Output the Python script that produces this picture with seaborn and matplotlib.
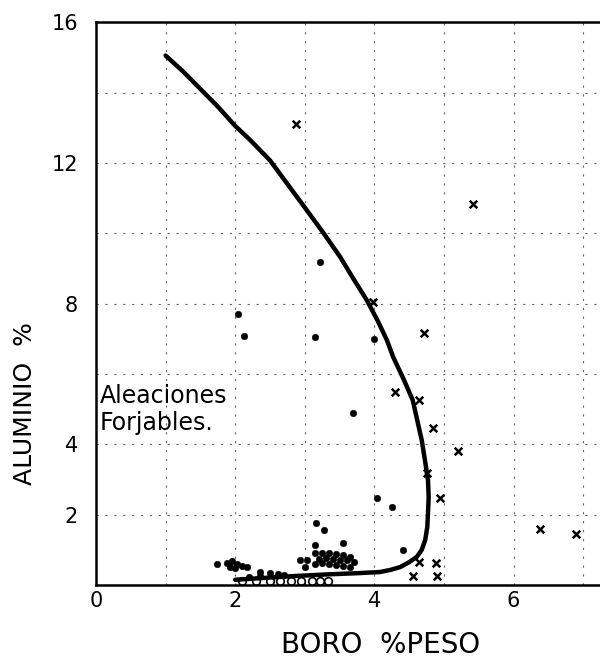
import pandas as pd
import matplotlib
matplotlib.use("Agg")
import matplotlib.pyplot as plt
import seaborn as sns

# boundary curve (boro %, aluminio %)
curve_b = [1.0, 1.25, 1.5, 1.75, 2.0, 2.21, 2.5, 2.75, 3.03, 3.27, 3.51, 3.7,
           3.89, 4.05, 4.18, 4.27, 4.42, 4.55, 4.68, 4.73, 4.77, 4.78, 4.77,
           4.76, 4.73, 4.68, 4.61, 4.5, 4.37, 4.23, 4.08, 3.79, 3.3, 2.8, 2.4, 2.0]
curve_al = [15.05, 14.6, 14.1, 13.6, 13.05, 12.66, 12.07, 11.4, 10.65, 10.0, 9.32, 8.7,
            8.1, 7.5, 6.96, 6.48, 5.85, 5.26, 4.12, 3.5, 2.98, 2.5, 2.05,
            1.65, 1.28, 1.0, 0.8, 0.65, 0.51, 0.43, 0.37, 0.34, 0.3, 0.25, 0.2, 0.15]

# forgeable alloys (dots)
dot_b = [3.22, 2.04, 2.13, 3.15, 4.0, 3.69, 4.04, 4.25, 3.16, 3.28, 3.15, 3.55,
         4.41, 2.93, 3.03, 3.0, 1.74, 2.36, 2.5, 2.62,
         3.15, 3.25, 3.35, 3.45, 3.55, 3.65, 3.2, 3.3, 3.4, 3.5, 3.6, 3.7,
         3.15, 3.25, 3.35, 3.45, 3.55, 3.65,
         1.88, 1.95, 2.02, 2.1, 2.17, 1.92, 2.0, 2.2, 2.35, 2.7]
dot_al = [9.18, 7.7, 7.07, 7.05, 7.0, 4.9, 2.47, 2.22, 1.76, 1.56, 1.14, 1.19,
          1.0, 0.71, 0.71, 0.52, 0.6, 0.37, 0.34, 0.31,
          0.9, 0.92, 0.9, 0.88, 0.85, 0.8, 0.75, 0.78, 0.75, 0.72, 0.7, 0.65,
          0.6, 0.62, 0.6, 0.58, 0.55, 0.5,
          0.62, 0.68, 0.6, 0.55, 0.5, 0.5, 0.48, 0.22, 0.25, 0.28]

# open circles along the bottom
ring_b = [2.1, 2.3, 2.5, 2.65, 2.8, 2.95, 3.1, 3.22, 3.34]
ring_al = [0.12, 0.12, 0.12, 0.12, 0.12, 0.12, 0.12, 0.12, 0.12]

# non-forgeable alloys (crosses)
cross_b = [2.87, 5.42, 3.98, 4.71, 4.3, 4.64, 4.84, 5.2, 4.75, 4.94,
           6.38, 6.9, 4.64, 4.88, 4.55, 4.9]
cross_al = [13.1, 10.82, 8.04, 7.16, 5.48, 5.26, 4.46, 3.81, 3.18, 2.47,
            1.59, 1.45, 0.65, 0.62, 0.26, 0.26]

y_ticks = [0, 2, 4, 6, 8, 10, 12, 14, 16]
y_labels = ["", "2", "4", "", "8", "", "12", "", "16"]
x_ticks = [0, 1, 2, 3, 4, 5, 6, 7]
x_labels = ["0", "", "2", "", "4", "", "6", ""]

sns.set_style("white")
plt.rcParams["font.family"] = ["DejaVu Sans"]
plt.rcParams["text.color"] = "black"
plt.rcParams["axes.labelcolor"] = "black"

fig = plt.figure(figsize=(6, 6.63), dpi=100)
ax = fig.add_axes([0.16, 0.1176, 0.87, 0.849])

curve = pd.DataFrame({"boro": curve_b, "aluminio": curve_al})
sns.lineplot(data=curve, x="boro", y="aluminio", sort=False, estimator=None,
             color="black", linewidth=3.2, ax=ax)

sns.scatterplot(x=dot_b, y=dot_al, color="black", s=22, marker="o",
                edgecolor="black", ax=ax)
sns.scatterplot(x=ring_b, y=ring_al, facecolor="white", edgecolor="black",
                s=30, linewidth=1.2, marker="o", ax=ax)
sns.scatterplot(x=cross_b, y=cross_al, color="black", s=30, marker="x",
                linewidth=1.8, ax=ax)

ax.set_xlim(0, 7.5)
ax.set_ylim(0, 16)
ax.set_xticks(x_ticks)
ax.set_xticklabels(x_labels)
ax.set_yticks(y_ticks)
ax.set_yticklabels(y_labels)
ax.tick_params(length=0, labelsize=15, labelcolor="black")
ax.tick_params(axis="x", pad=4)
ax.tick_params(axis="y", pad=13)
ax.grid(True, color="0.4", linestyle=(0, (2, 6)), linewidth=0.8)

for side in ["left", "bottom", "top"]:
    ax.spines[side].set_color("black")
    ax.spines[side].set_linewidth(1.8)
ax.spines["right"].set_visible(False)

ax.set_xlabel("BORO  %PESO", fontsize=20, va="center")
ax.xaxis.set_label_coords(0.546, -0.107)
ax.set_ylabel("ALUMINIO  %", fontsize=18, va="center")
ax.yaxis.set_label_coords(-0.136, 0.323)
ax.text(0.05, 5.72, "Aleaciones\nForjables.", fontsize=17, va="top", ha="left",
        linespacing=1.15)

fig.savefig("out.png", dpi=100)
